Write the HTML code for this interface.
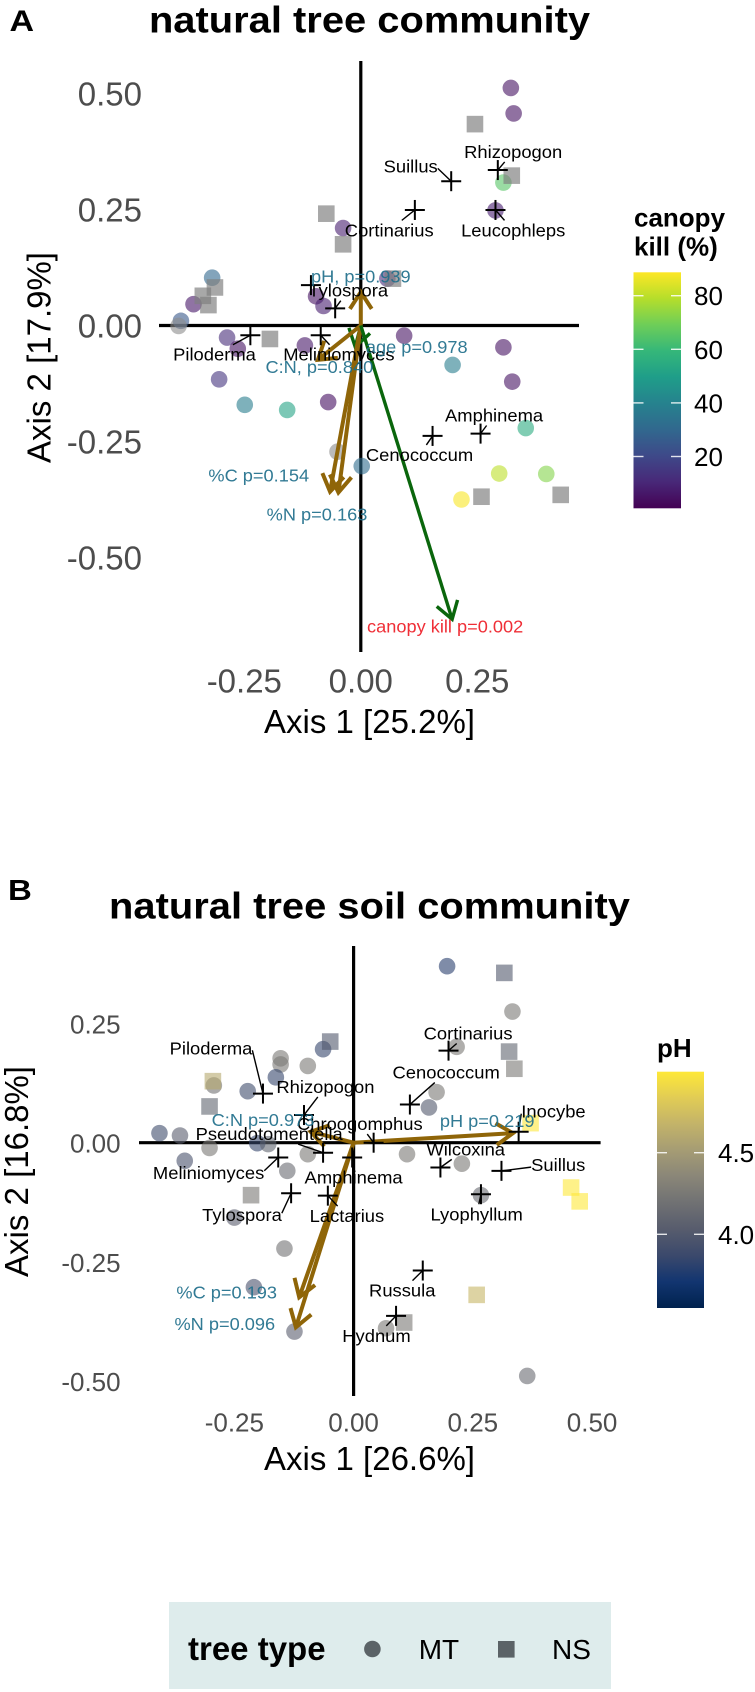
<!DOCTYPE html>
<html lang="en">
<head>
<meta charset="utf-8">
<title>Natural tree communities ordination</title>
<style>
html,body{margin:0;padding:0;background:#fff;width:755px;height:1692px;overflow:hidden}
svg{display:block;font-family:"Liberation Sans",Arial,sans-serif}
.tick{fill:#4d4d4d}
</style>
</head>
<body>
<svg id="fig" xmlns="http://www.w3.org/2000/svg" width="755" height="1692" viewBox="0 0 755 1692">
  <defs>
    <linearGradient id="viridisBar" x1="0" y1="1" x2="0" y2="0">
      <stop offset="0" stop-color="#440154"/><stop offset=".111" stop-color="#482878"/><stop offset=".222" stop-color="#3e4989"/><stop offset=".333" stop-color="#31688e"/><stop offset=".444" stop-color="#26828e"/><stop offset=".556" stop-color="#1f9e89"/><stop offset=".667" stop-color="#35b779"/><stop offset=".778" stop-color="#6ece58"/><stop offset=".889" stop-color="#b5de2b"/><stop offset="1" stop-color="#fde725"/>
    </linearGradient>
    <linearGradient id="cividisBar" x1="0" y1="1" x2="0" y2="0">
      <stop offset="0" stop-color="#00224e"/><stop offset=".111" stop-color="#123570"/><stop offset=".222" stop-color="#3b496c"/><stop offset=".333" stop-color="#575c6d"/><stop offset=".444" stop-color="#707173"/><stop offset=".556" stop-color="#8a8678"/><stop offset=".667" stop-color="#a59c74"/><stop offset=".778" stop-color="#c3b369"/><stop offset=".889" stop-color="#e1cc55"/><stop offset="1" stop-color="#fee838"/>
    </linearGradient>
  </defs>

  <text transform="translate(9.5 31) scale(1 .88)" font-size="34" font-weight="700">A</text>
  <text transform="translate(369.5 32.7) scale(1 .92)" font-size="39.9" font-weight="700" text-anchor="middle">natural tree community</text>
  <text transform="translate(50.6 357.5) rotate(-90)" font-size="33" text-anchor="middle">Axis 2 [17.9%]</text>
  <text x="369.5" y="733" font-size="33" text-anchor="middle">Axis 1 [25.2%]</text>
  <line x1="159" y1="325.5" x2="579" y2="325.5" stroke="#000" stroke-width="3.2"/>
  <line x1="360.8" y1="61" x2="360.8" y2="652" stroke="#000" stroke-width="3.2"/>
  <g id="a-ticks"></g>
  <g id="a-points"></g>
  <g id="a-arrows"></g>
  <g id="a-taxa"></g>
  <g id="a-env"></g>
  <text x="634" y="226.7" font-size="26" font-weight="700">canopy</text>
  <text x="634" y="255.7" font-size="26" font-weight="700">kill (%)</text>
  <rect x="633.5" y="272.3" width="47.5" height="236" fill="url(#viridisBar)"/>
  <g id="a-legend"></g>

  <text transform="translate(8 900) scale(1 .88)" font-size="33" font-weight="700">B</text>
  <text transform="translate(369.5 918.3) scale(1 .92)" font-size="39.9" font-weight="700" text-anchor="middle">natural tree soil community</text>
  <text transform="translate(28 1171.5) rotate(-90)" font-size="33" text-anchor="middle">Axis 2 [16.8%]</text>
  <text x="369.5" y="1470" font-size="33" text-anchor="middle">Axis 1 [26.6%]</text>
  <line x1="139" y1="1142.7" x2="600.6" y2="1142.7" stroke="#000" stroke-width="3.2"/>
  <line x1="353.6" y1="946" x2="353.6" y2="1396" stroke="#000" stroke-width="3.2"/>
  <g id="b-ticks"></g>
  <g id="b-points"></g>
  <g id="b-arrows"></g>
  <g id="b-taxa"></g>
  <g id="b-env"></g>
  <text x="657" y="1057" font-size="26" font-weight="700">pH</text>
  <rect x="657" y="1071.7" width="47" height="236.3" fill="url(#cividisBar)"/>
  <g id="b-legend"></g>

  <rect x="169" y="1602" width="442" height="87" fill="#deecec"/>
  <text x="188" y="1660" font-size="33" font-weight="700">tree type</text>
  <circle cx="372.4" cy="1649" r="8.3" fill="#5b6367"/>
  <text x="418.7" y="1659" font-size="28">MT</text>
  <rect x="498" y="1641" width="16.6" height="16.6" fill="#5b6367"/>
  <text x="552" y="1659" font-size="28">NS</text>
</svg>

<script>
// ---------- Panel A data (axis units) ----------
const aCircleX = [.322,.328,.306,.289,-.038,-.319,.057,-.359,-.096,-.08,-.386,-.391,-.287,-.264,-.12,.093,.306,.197,.325,-.304,-.249,-.158,-.07,.354,-.05,.002,.297,.398,.216];
const aCircleY = [.512,.457,.308,.248,.21,.103,.101,.046,.063,.042,.01,-.001,-.026,-.05,-.043,-.022,-.047,-.085,-.121,-.116,-.171,-.182,-.165,-.221,-.272,-.303,-.319,-.32,-.375];
const aCanopyKill = [5,5,65,8,8,30,12,6,5,8,25,null,12,5,6,5,5,38,5,14,38,52,4,55,null,32,80,72,88];
const aSquareX = [.245,.324,-.074,-.038,.069,-.313,-.339,-.327,-.195,.259,.429];
const aSquareY = [.434,.323,.241,.175,.101,.082,.064,.044,-.029,-.369,-.365];
const aTaxa = ["Rhizopogon","Suillus","Cortinarius","Leucophleps","Tylospora","","Piloderma","Meliniomyces","Cenococcum","Amphinema"];
const aTaxaX = [.294,.194,.116,.289,-.055,-.107,-.237,-.086,.154,.257];
const aTaxaY = [.335,.311,.249,.249,.037,.087,-.021,-.021,-.238,-.233];
const aRepelX = [.033,-.087,-.055,.038,.028,0,-.077,.039,-.028,.029];
const aRepelY = [.039,.032,-.044,-.044,.038,0,-.042,-.042,-.041,.039];
const aEnv = ["pH, p=0.939","age p=0.978","C:N, p=0.840","%C p=0.154","%N p=0.163","canopy kill p=0.002"];
const aEnvX = [0,-.012,-.092,-.066,-.048,.196];
const aEnvY = [.072,-.046,-.074,-.358,-.36,-.633];
const aEnvKind = ["soil","age","soil","soil","soil","kill"];
const aEnvLabelDx = [0,.132,.003,-.153,-.046,-.015];
const aEnvLabelDy = [.034,0,-.015,.035,-.047,-.016];
const aXTicks = [-.25,0,.25];
const aXTickLabels = ["-0.25","0.00","0.25"];
const aYTicks = [.5,.25,0,-.25,-.5];
const aYTickLabels = ["0.50","0.25","0.00","-0.25","-0.50"];
const aLegendTicks = [80,60,40,20];

// ---------- Panel B data (axis units) ----------
const bCircleX = [.196,.333,.216,-.064,-.153,-.153,-.096,-.163,-.293,-.222,.174,.158,-.407,-.364,-.302,-.202,-.179,-.096,.112,.227,-.354,-.139,.267,-.25,-.145,-.209,-.124,.068,.364];
const bCircleY = [.37,.275,.201,.196,.177,.164,.161,.137,.12,.108,.106,.074,.02,.015,-.011,-.001,-.003,-.024,-.024,-.044,-.038,-.059,-.11,-.157,-.222,-.303,-.396,-.389,-.489];
const bCirclePH = [3.8,4.25,4.25,3.85,4.25,4.25,4.25,3.85,4.2,3.9,4.25,4.0,3.9,4.05,4.25,3.85,4.1,4.25,4.25,4.25,3.95,4.15,4.15,4.05,4.2,3.95,4.05,4.25,4.15];
const bSquareX = [.316,.326,.337,-.049,-.295,-.302,.371,.456,.474,-.215,.106,.258];
const bSquareY = [.356,.191,.155,.212,.129,.076,.041,-.094,-.123,-.11,-.377,-.319];
const bSquarePH = [4.0,4.1,4.25,4.0,4.6,4.1,5.0,5.0,5.0,4.25,4.25,4.7];
const bTaxa = ["Cortinarius","Piloderma","Rhizopogon","Cenococcum","Inocybe","Chroogomphus","Pseudotomentella","Amphinema","Meliniomyces","Tylospora","Lactarius","Wilcoxina","Suillus","Lyophyllum","Russula","Hydnum"];
const bTaxaX = [.199,-.19,-.104,.118,.346,.042,-.064,-.003,-.158,-.131,-.054,.182,.31,.267,.145,.089];
const bTaxaY = [.193,.103,.058,.08,.023,0,-.021,-.031,-.031,-.106,-.111,-.052,-.059,-.108,-.268,-.363];
const bRepelX = [.041,-.109,.045,.076,.073,-.029,-.113,.003,-.146,-.103,.04,.053,.119,-.009,-.043,-.041];
const bRepelY = [.036,.095,.059,.067,.042,.039,.039,-.042,-.032,-.046,-.043,.038,.012,-.042,-.042,-.042];
const bEnv = ["pH p=0.219","C:N p=0.973","%C p=0.193","%N p=0.096"];
const bEnvX = [.334,-.09,-.114,-.121];
const bEnvY = [.02,.023,-.324,-.387];
const bEnvLabelDx = [-.054,-.1,-.152,-.149];
const bEnvLabelDy = [.026,.025,.01,.007];
const bXTicks = [-.25,0,.25,.5];
const bXTickLabels = ["-0.25","0.00","0.25","0.50"];
const bYTicks = [.25,0,-.25,-.5];
const bYTickLabels = ["0.25","0.00","-0.25","-0.50"];
const bLegendTicks = [4.5,4.0];

// ---------- Scales ----------
const aX = v => 360.8 + v * 466;
const aY = v => 325.5 - v * 464;
const bX = v => 353.6 + v * 477;
const bY = v => 1142.7 - v * 477;
const aLegendY = v => 295.7 + (80 - v) * 2.68;
const bLegendY = v => 1152.7 + (4.5 - v) * 163.2;

const viridis = ["#440154","#482878","#3e4989","#31688e","#26828e","#1f9e89","#35b779","#6ece58","#b5de2b","#fde725"];
const cividis = ["#00224e","#123570","#3b496c","#575c6d","#707173","#8a8678","#a59c74","#c3b369","#e1cc55","#fee838"];

function hex(c){ return [1,3,5].map(i => parseInt(c.substr(i,2),16)); }
function ramp(stops, t){
  t = Math.max(0, Math.min(1, t));
  const p = t * (stops.length - 1), i = Math.min(Math.floor(p), stops.length - 2), f = p - i;
  const a = hex(stops[i]), b = hex(stops[i + 1]);
  return "rgb(" + a.map((v, k) => Math.round(v + (b[k] - v) * f)).join(",") + ")";
}
const canopyColor = v => v === null ? "#8c8c8c" : ramp(viridis, (v - .8) / 87.9);
const phColor = v => ramp(cividis, (v - 3.55) / 1.45);

const NS = "http://www.w3.org/2000/svg";
function mk(parent, tag, attrs, text){
  const n = document.createElementNS(NS, tag);
  for (const k in attrs) n.setAttribute(k, attrs[k]);
  if (text !== undefined) n.textContent = text;
  document.getElementById(parent).appendChild(n);
  return n;
}

function drawTicks(id, xs, xLabels, ys, yLabels, sx, sy, size, xBase, yRight, yOff){
  xs.forEach((v, i) => {
    const t = mk(id, "text", {x: sx(v), y: xBase, "font-size": size, "text-anchor": "middle", class: "tick"}, xLabels[i]);
    
    
  });
  ys.forEach((v, i) => {
    const t = mk(id, "text", {x: yRight, y: sy(v) + yOff, "font-size": size, "text-anchor": "end", class: "tick"}, yLabels[i]);
    
    
  });
}

function drawCircle(id, x, y, color){
  const c = mk(id, "circle", {cx: x, cy: y, r: 8.3, fill: color, "fill-opacity": .6});
  
  
}
function drawSquare(id, x, y, color, op){
  const s = mk(id, "rect", {x: x - 8.3, y: y - 8.3, width: 16.6, height: 16.6, fill: color, "fill-opacity": op});
  
  
}

function drawArrow(id, ox, oy, tx, ty, color, width, name){
  const ang = Math.atan2(oy - ty, ox - tx), len = 20, spread = 33 * Math.PI / 180;
  const x1 = tx + len * Math.cos(ang + spread), y1 = ty + len * Math.sin(ang + spread);
  const x2 = tx + len * Math.cos(ang - spread), y2 = ty + len * Math.sin(ang - spread);
  const shaft = mk(id, "line", {x1: ox, y1: oy, x2: tx, y2: ty, stroke: color, "stroke-width": width});
  
  
  const head = mk(id, "polyline", {points: x1 + "," + y1 + " " + tx + "," + ty + " " + x2 + "," + y2, fill: "none", stroke: color, "stroke-width": width});
  
  
}

function drawTaxa(id, names, xs, ys, rx, ry, sx, sy){
  names.forEach((nm, i) => {
    const px = sx(xs[i]), py = sy(ys[i]);
    if (nm) {
      const lx = sx(xs[i] + rx[i]), ly = sy(ys[i] + ry[i]);
      const t = mk(id, "text", {transform: "translate(" + lx + " " + (ly + 6) + ") scale(1 .93)", "font-size": 18.4, "text-anchor": "middle", fill: "#000"}, nm);
      
      
      const hw = t.getComputedTextLength() / 2;
      let ex, ey;
      if (px > lx - hw && px < lx + hw) {
        const hh = 10, f = Math.abs(ly - py) > hh ? 1 - hh / Math.abs(ly - py) : 0;
        ex = px + (lx - px) * f;
        ey = py + (ly - py) * f;
      } else {
        ex = Math.max(lx - hw, Math.min(px, lx + hw));
        ey = Math.max(ly - 2, Math.min(py, ly + 2));
      }
      const l = mk(id, "line", {x1: px, y1: py, x2: ex, y2: ey, stroke: "#000", "stroke-width": 1.4});
      
      
    }
    const h = mk(id, "line", {x1: px - 10, y1: py, x2: px + 10, y2: py, stroke: "#000", "stroke-width": 2});
    
    
    const v = mk(id, "line", {x1: px, y1: py - 10, x2: px, y2: py + 10, stroke: "#000", "stroke-width": 2});
    
    
  });
}

function drawEnvLabel(id, label, x, y, color){
  const t = mk(id, "text", {transform: "translate(" + x + " " + (y + 6) + ") scale(1 .95)", "font-size": 18.2, "text-anchor": "middle", fill: color, "fill-opacity": .92}, label);
  
  
}

function drawLegendTicks(id, values, sy, left, right, textX, digits){
  values.forEach(v => {
    const y = sy(v);
    const a = mk(id, "line", {x1: left, y1: y, x2: left + 10, y2: y, stroke: "#fff", "stroke-width": 1.4, "stroke-opacity": .85});
    
    
    const b = mk(id, "line", {x1: right - 10, y1: y, x2: right, y2: y, stroke: "#fff", "stroke-width": 1.4, "stroke-opacity": .85});
    
    
    const t = mk(id, "text", {x: textX, y: y + 9.5, "font-size": 26, fill: "#000"}, v.toFixed(digits));
    
    
  });
}

// ---------- Panel A ----------
drawTicks("a-ticks", aXTicks, aXTickLabels, aYTicks, aYTickLabels, aX, aY, 33, 692.7, 142, 12);
aCircleX.forEach((v, i) => drawCircle("a-points", aX(v), aY(aCircleY[i]), canopyColor(aCanopyKill[i])));
aSquareX.forEach((v, i) => drawSquare("a-points", aX(v), aY(aSquareY[i]), "#7f7f7f", .68));
aEnv.forEach((nm, i) => {
  const kind = aEnvKind[i];
  const col = kind === "soil" ? "#8f6508" : "#0a660c";
  drawArrow("a-arrows", aX(0), aY(0), aX(aEnvX[i]), aY(aEnvY[i]), col, kind === "soil" ? 4 : 3.4, "env-" + kind);
});
drawTaxa("a-taxa", aTaxa, aTaxaX, aTaxaY, aRepelX, aRepelY, aX, aY);
aEnv.forEach((nm, i) => {
  const col = aEnvKind[i] === "kill" ? "#ee1c25" : "#1f6f8b";
  drawEnvLabel("a-env", nm, aX(aEnvX[i] + aEnvLabelDx[i]), aY(aEnvY[i] + aEnvLabelDy[i]), col);
});
drawLegendTicks("a-legend", aLegendTicks, aLegendY, 633.5, 681, 694, 0);

// ---------- Panel B ----------
drawTicks("b-ticks", bXTicks, bXTickLabels, bYTicks, bYTickLabels, bX, bY, 26, 1431.7, 120.6, 10);
bCircleX.forEach((v, i) => drawCircle("b-points", bX(v), bY(bCircleY[i]), phColor(bCirclePH[i])));
bSquareX.forEach((v, i) => drawSquare("b-points", bX(v), bY(bSquareY[i]), phColor(bSquarePH[i]), .6));
bEnv.forEach((nm, i) => {
  drawArrow("b-arrows", bX(0), bY(0), bX(bEnvX[i]), bY(bEnvY[i]), "#8f6508", 4, "env-soil");
});
drawTaxa("b-taxa", bTaxa, bTaxaX, bTaxaY, bRepelX, bRepelY, bX, bY);
bEnv.forEach((nm, i) => {
  drawEnvLabel("b-env", nm, bX(bEnvX[i] + bEnvLabelDx[i]), bY(bEnvY[i] + bEnvLabelDy[i]), "#1f6f8b");
});
drawLegendTicks("b-legend", bLegendTicks, bLegendY, 657, 704, 718, 1);
</script>
</body>
</html>
